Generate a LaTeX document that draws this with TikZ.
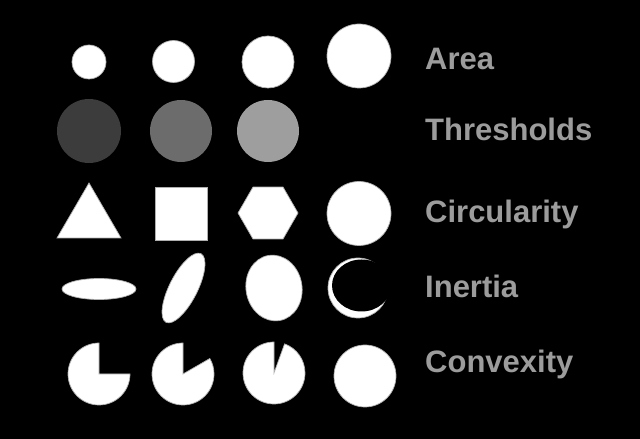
\documentclass[tikz,border=0pt]{standalone}
\usepackage{xcolor}
\definecolor{shapeedge}{RGB}{175,175,175}
\definecolor{labelgray}{RGB}{156,156,156}
\definecolor{threshdark}{RGB}{60,60,60}
\definecolor{threshmid}{RGB}{108,108,108}
\definecolor{threshlight}{RGB}{158,158,158}
\usepackage{fontspec}
\setmainfont{Liberation Sans}
\usepackage{tikz}
\usetikzlibrary{positioning}
\tikzset{
  blob/.style={fill=white,draw=shapeedge,line width=0.7pt},
  featuretext/.style={anchor=base west,inner sep=0pt,text=labelgray,
    font=\fontsize{31}{37}\selectfont\bfseries}
}
\newcommand{\pieblob}[3]{%
  \filldraw[blob] (#1,#2) -- +(90:31) arc[start angle=90,end angle=#3+360,radius=31] -- cycle;}
\newcommand{\hexblob}[3]{%
  \filldraw[blob] (#1,#2) +(0:#3) -- +(60:#3) -- +(120:#3) -- +(180:#3) -- +(240:#3) -- +(300:#3) -- cycle;}

\begin{document}
\begin{tikzpicture}[x=1pt,y=1pt]
  \fill[black] (0,0) rectangle (640,439);
  % Area
  \filldraw[blob] (89,377) circle (17);
  \filldraw[blob] (173.5,377.5) circle (21);
  \filldraw[blob] (268,377) circle (26);
  \filldraw[blob] (359,383) circle (32);
  % Thresholds
  \fill[threshdark] (89,308) circle (32);
  \fill[threshmid] (181,308) circle (31);
  \fill[threshlight] (268,308) circle (31);
  % Circularity
  \filldraw[blob] (57,201) -- (121,201) -- (89,256) -- cycle;
  \filldraw[blob] (155,199) rectangle (207,252);
  \hexblob{268}{226}{30}
  \filldraw[blob] (359,225.5) circle (32);
  % Inertia
  \filldraw[blob] (99,150) ellipse [x radius=37,y radius=10.5];
  \filldraw[blob,rotate around={63:(183.5,151)}] (183.5,151) ellipse [x radius=38.5,y radius=14];
  \filldraw[blob,rotate around={10:(274,151)}] (274,151) ellipse [x radius=28,y radius=33];
  \filldraw[blob] (358,151) circle (30);
  \fill[black] (361.5,153.5) ellipse [x radius=29.5,y radius=26];
  % Convexity
  \pieblob{99}{65}{0}
  \pieblob{183}{65}{30}
  \pieblob{274}{66}{70}
  \filldraw[blob] (365,63) circle (31);
  \node[featuretext] (area) at (425,369) {Area};
  \node[featuretext] (thresholds) at (425,298) {Thresholds};
  \node[featuretext] (circularity) at (425,216) {Circularity};
  \node[featuretext] (inertia) at (425,141) {Inertia};
  \node[featuretext] (convexity) at (425,66) {Convexity};
\end{tikzpicture}
\end{document}
